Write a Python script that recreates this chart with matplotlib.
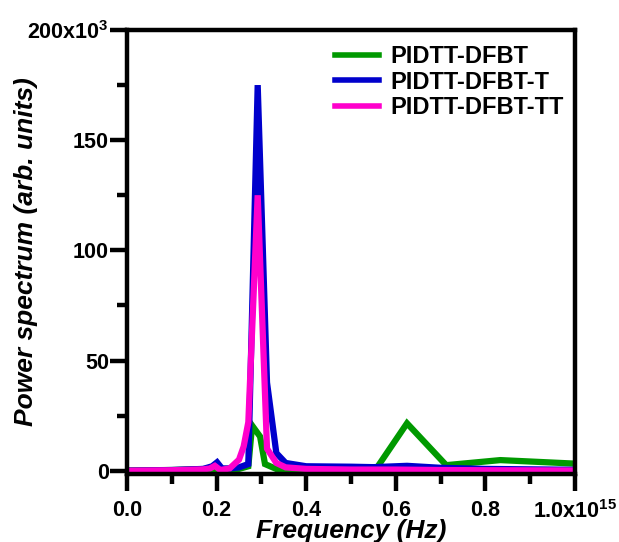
import numpy as np
import matplotlib
matplotlib.use("Agg")
import matplotlib.pyplot as plt
from matplotlib.ticker import MultipleLocator

plt.rcParams["font.family"] = "Liberation Sans"
plt.rcParams["font.weight"] = "bold"
plt.rcParams["mathtext.fontset"] = "custom"
plt.rcParams["mathtext.rm"] = "Liberation Sans:bold"
plt.rcParams["mathtext.bf"] = "Liberation Sans:bold"

# frequency in units of 1e15 Hz, power in units of 1e3
freq_g = [0.0, 0.10, 0.18, 0.229, 0.25, 0.2708, 0.2792, 0.297, 0.308, 0.333,
          0.40, 0.50, 0.558, 0.625, 0.7125, 0.8333, 1.0]
pow_g = [0.1, 0.3, 0.8, 0.8, 0.8, 2.0, 20.5, 15.5, 3.0, 0.8,
         0.6, 1.0, 1.4, 21.5, 2.5, 4.8, 3.2]

freq_b = [0.0, 0.10, 0.17, 0.19, 0.201, 0.212, 0.229, 0.25, 0.2708, 0.2917,
          0.3125, 0.3333, 0.3542, 0.40, 0.50, 0.55, 0.625, 0.70, 0.80, 1.0]
pow_b = [0.0, 0.3, 0.8, 2.0, 3.8, 1.0, 1.0, 1.5, 3.0, 175.0,
         40.0, 8.0, 3.5, 2.0, 1.8, 1.6, 2.2, 1.3, 0.8, 0.4]

freq_m = [0.0, 0.10, 0.17, 0.185, 0.196, 0.208, 0.229, 0.25, 0.2604, 0.2708,
          0.2917, 0.3125, 0.3333, 0.3542, 0.40, 0.50, 0.60, 0.70, 0.80, 1.0]
pow_m = [0.0, 0.2, 0.6, 1.0, 2.2, 0.3, 1.0, 5.0, 11.0, 22.0,
         125.0, 10.0, 3.5, 1.5, 0.8, 0.5, 0.5, 0.3, 0.2, 0.1]

labels = ["PIDTT-DFBT", "PIDTT-DFBT-T", "PIDTT-DFBT-TT"]
colors = ["#009900", "#0000CC", "#FF00CC"]

x_ticks = [0.0, 0.2, 0.4, 0.6, 0.8, 1.0]
x_ticklabels = ["0.0", "0.2", "0.4", "0.6", "0.8", r"1.0x10$^{15}$"]
y_ticks = [0, 50, 100, 150, 200]
y_ticklabels = ["0", "50", "100", "150", r"200x10$^{3}$"]

fig = plt.figure(figsize=(6.19, 5.42), dpi=100)
ax = fig.add_axes([0.2052, 0.1255, 0.7237, 0.8191])

series = [(freq_g, pow_g), (freq_b, pow_b), (freq_m, pow_m)]
for (fx, py), lab, col in zip(series, labels, colors):
    ax.plot(np.array(fx) * 1e15, np.array(py) * 1e3, color=col, lw=4.5,
            label=lab, solid_joinstyle="miter")

ax.set_xlim(0, 1.0e15)
ax.set_ylim(-1500, 200000)
ax.set_xticks([v * 1e15 for v in x_ticks])
ax.set_xticklabels(x_ticklabels)
ax.set_yticks([v * 1e3 for v in y_ticks])
ax.set_yticklabels(y_ticklabels)
ax.xaxis.set_minor_locator(MultipleLocator(0.1e15))
ax.yaxis.set_minor_locator(MultipleLocator(25000))

for s in ax.spines.values():
    s.set_linewidth(3.2)
ax.tick_params(which="major", length=12, width=3.2, labelsize=15.5)
ax.tick_params(which="minor", length=7, width=3.2)
ax.tick_params(axis="x", which="major", pad=7)
ax.tick_params(axis="y", which="major", pad=1)

ax.set_xlabel("Frequency (Hz)", fontsize=19, fontstyle="italic",
              fontweight="bold")
ax.set_ylabel("Power spectrum (arb. units)", fontsize=19, fontstyle="italic",
              fontweight="bold")
ax.xaxis.set_label_coords(0.5, -0.101)
ax.yaxis.set_label_coords(-0.199, 0.5)

leg = ax.legend(loc="upper left", bbox_to_anchor=(0.417, 1.014), frameon=False,
                fontsize=17, handlelength=1.86, handletextpad=0.47,
                labelspacing=0.11)
for h in leg.get_lines():
    h.set_linewidth(4)

fig.savefig("out.png", dpi=100)
